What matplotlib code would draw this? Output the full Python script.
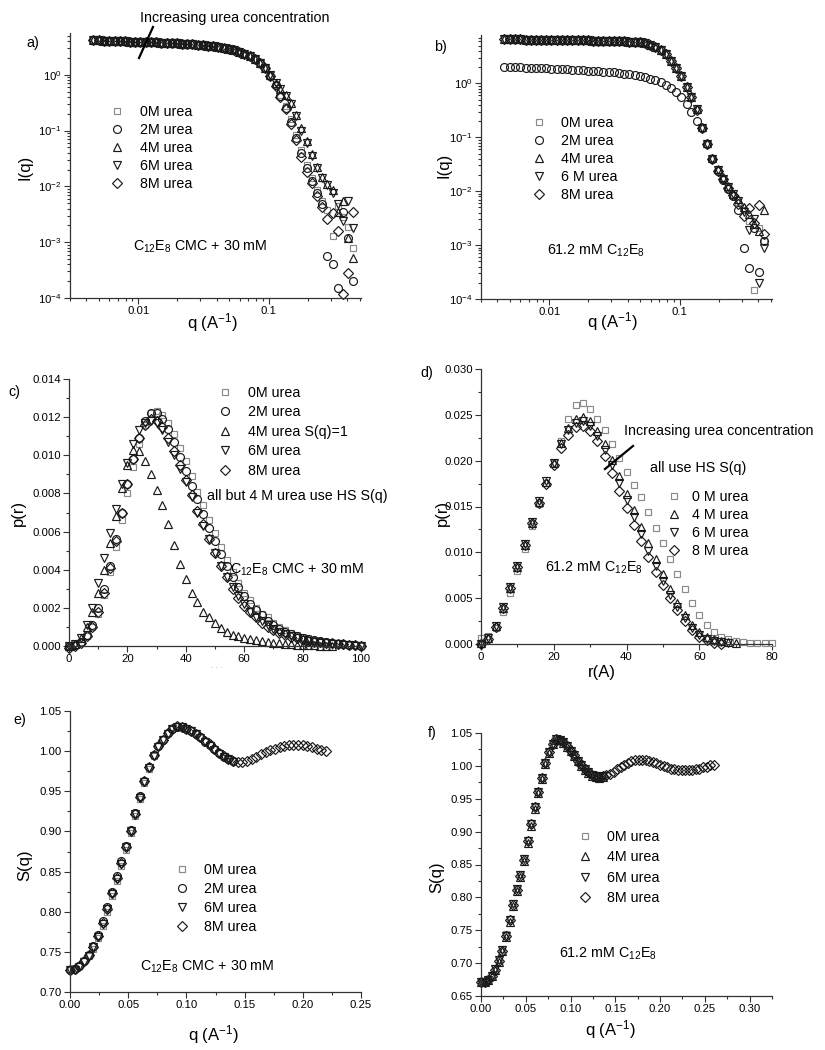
import matplotlib
matplotlib.use('Agg')
import matplotlib.pyplot as plt
from matplotlib.lines import Line2D
from matplotlib.ticker import (MultipleLocator, FixedLocator, LogLocator,
                               NullFormatter, FormatStrFormatter, FuncFormatter,
                               LogFormatterMathtext)

plt.rcParams['font.family'] = ['Liberation Sans', 'DejaVu Sans']
plt.rcParams['mathtext.fontset'] = 'custom'
plt.rcParams['mathtext.rm'] = 'Liberation Sans'
plt.rcParams['mathtext.it'] = 'Liberation Sans:italic'
plt.rcParams['mathtext.bf'] = 'Liberation Sans:bold'

# ---------------- panel a : I(q), C12E8 CMC + 30 mM ----------------
q_a = [0.0045, 0.005, 0.0055, 0.006, 0.0066, 0.0072, 0.0079, 0.0087, 0.0095, 0.0104,
       0.0114, 0.0125, 0.0137, 0.015, 0.0165, 0.018, 0.0198, 0.0217, 0.0238, 0.026,
       0.0285, 0.0313, 0.0343, 0.0376, 0.0412, 0.0451, 0.0495, 0.0542, 0.0594, 0.0651,
       0.0713, 0.0782, 0.0857, 0.0939,
       0.103, 0.113, 0.123, 0.135, 0.148, 0.163, 0.178, 0.195, 0.214, 0.235,
       0.257, 0.282, 0.309, 0.339, 0.371, 0.407, 0.446]
I_a_low = [4.2, 4.15, 4.1, 4.07, 4.03, 4.0, 3.97, 3.94, 3.91, 3.88,
           3.85, 3.82, 3.79, 3.76, 3.72, 3.69, 3.65, 3.61, 3.57, 3.52,
           3.46, 3.40, 3.33, 3.25, 3.15, 3.04, 2.91, 2.76, 2.58, 2.37,
           2.13, 1.90, 1.62, 1.32]
I_a_0M = I_a_low + [0.97, 0.66, 0.44, 0.27, 0.16, 0.085, 0.045, 0.024, 0.014, 0.0085,
                    0.0055, 0.0038, 0.0013, 0.0045, 0.0028, 0.0019, 0.0008]
I_a_2M = I_a_low + [0.96, 0.65, 0.42, 0.25, 0.145, 0.075, 0.039, 0.021, 0.0125, 0.0075,
                    0.0048, 0.00057, 0.0004, 0.00015, 0.0035, 0.0012, 0.0002]
I_a_4M = I_a_low + [1.0, 0.72, 0.56, 0.43, 0.31, 0.19, 0.11, 0.065, 0.038, 0.022,
                    0.015, 0.011, 0.0085, 0.0035, 0.0055, 0.0012, 0.00052]
I_a_6M = I_a_low + [0.99, 0.71, 0.55, 0.42, 0.30, 0.18, 0.10, 0.06, 0.035, 0.021,
                    0.014, 0.0105, 0.0075, 0.0048, 0.0024, 0.0055, 0.0018]
I_a_8M = I_a_low + [0.95, 0.63, 0.40, 0.24, 0.13, 0.068, 0.033, 0.018, 0.0115, 0.0068,
                    0.0042, 0.0026, 0.0034, 0.0016, 0.00012, 0.00028, 0.0035]

# ---------------- panel b : I(q), 61.2 mM C12E8 ----------------
q_b = q_a
I_b_high = [6.6, 6.58, 6.55, 6.53, 6.5, 6.48, 6.46, 6.44, 6.42, 6.4,
            6.38, 6.36, 6.34, 6.32, 6.3, 6.28, 6.26, 6.24, 6.22, 6.2,
            6.17, 6.14, 6.1, 6.05, 5.98, 5.88, 5.74, 5.55, 5.25, 4.8,
            4.2, 3.45, 2.65, 1.95]
I_b_0M = I_b_high + [1.38, 0.86, 0.56, 0.33, 0.15, 0.075, 0.041, 0.025, 0.017, 0.012,
                     0.0085, 0.0062, 0.0045, 0.0028, 0.00015, 0.0021, 0.0012]
I_b_2M = [2.05, 2.03, 2.01, 1.99, 1.97, 1.95, 1.93, 1.91, 1.89, 1.87,
          1.85, 1.83, 1.81, 1.79, 1.77, 1.75, 1.73, 1.71, 1.68, 1.66,
          1.63, 1.6, 1.56, 1.52, 1.48, 1.43, 1.38, 1.31, 1.23, 1.14,
          1.04, 0.93, 0.81, 0.69,
          0.57, 0.42, 0.29, 0.2, 0.15, 0.074, 0.04, 0.024, 0.016, 0.011,
          0.008, 0.0045, 0.0009, 0.00037, 0.0021, 0.00032, 0.0012]
I_b_4M = I_b_high + [1.4, 0.87, 0.57, 0.34, 0.155, 0.078, 0.042, 0.026, 0.018, 0.0125,
                     0.009, 0.0072, 0.0052, 0.0038, 0.0025, 0.0018, 0.0045]
I_b_6M = I_b_high + [1.37, 0.85, 0.55, 0.33, 0.15, 0.074, 0.04, 0.025, 0.017, 0.012,
                     0.0088, 0.0065, 0.0042, 0.0019, 0.0031, 0.0002, 0.0009]
I_b_8M = I_b_high + [1.36, 0.84, 0.55, 0.32, 0.15, 0.074, 0.04, 0.024, 0.0165, 0.0115,
                     0.0085, 0.0058, 0.0035, 0.0048, 0.0026, 0.0055, 0.0016]

# ---------------- panel c : p(r), C12E8 CMC + 30 mM ----------------
r_c = [0, 2, 4, 6, 8, 10, 12, 14, 16, 18, 20, 22, 24, 26, 28, 30, 32, 34, 36, 38,
       40, 42, 44, 46, 48, 50, 52, 54, 56, 58, 60, 62, 64, 66, 68, 70, 72, 74, 76, 78,
       80, 82, 84, 86, 88, 90, 92, 94, 96, 98, 100]
p_c_0M = [0.0, 0.00003, 0.0002, 0.0005, 0.001, 0.0017, 0.0027, 0.0039, 0.0052, 0.0066,
          0.008, 0.0094, 0.0106, 0.0116, 0.0122,
          0.0123, 0.0121, 0.0117, 0.0111, 0.0104, 0.0097, 0.0089, 0.0081, 0.0074, 0.0066,
          0.0059, 0.0052, 0.0045, 0.0039, 0.0033, 0.0028, 0.0024, 0.002, 0.0017, 0.0015,
          0.0012, 0.001, 0.00085, 0.0007, 0.00058, 0.00048, 0.0004, 0.00033, 0.00027, 0.00022,
          0.00018, 0.00014, 0.0001, 0.00007, 0.00004, 0.00002]
p_c_2M = [0.0, 0.00004, 0.0002, 0.0006, 0.0011, 0.002, 0.003, 0.0042, 0.0056, 0.007,
          0.0085, 0.0098, 0.0109, 0.0118, 0.0122,
          0.0122, 0.0119, 0.0114, 0.0107, 0.0099, 0.0092, 0.0084, 0.0077, 0.0069, 0.0062,
          0.0055, 0.0048, 0.0042, 0.0036, 0.0031, 0.0026, 0.0022, 0.0019, 0.0016, 0.0013,
          0.0011, 0.0009, 0.00076, 0.00063, 0.00052, 0.00043, 0.00036, 0.0003, 0.00025, 0.0002,
          0.00016, 0.00013, 0.0001, 0.00007, 0.00004, 0.00002]
r_c_4M = r_c[:46]
p_c_4M = [0.0, 0.0001, 0.0004, 0.001, 0.0018, 0.0028, 0.004, 0.0054, 0.0068, 0.0083,
          0.0095, 0.0103, 0.0102, 0.0097, 0.009, 0.0082, 0.0074, 0.0064, 0.0053, 0.0043,
          0.0035, 0.0028, 0.0023, 0.0018, 0.0015, 0.0012, 0.00095, 0.00075, 0.0006, 0.0005,
          0.00042, 0.00035, 0.0003, 0.00025, 0.0002, 0.00017, 0.00014, 0.00011, 0.00009, 0.00007,
          0.00005, 0.00004, 0.00003, 0.00002, 0.00001, 0.0]
p_c_6M = [0.0, 0.0001, 0.0004, 0.0011, 0.002, 0.0033, 0.0046, 0.0059, 0.0072, 0.0085,
          0.0096, 0.0106, 0.0113, 0.0117, 0.0118,
          0.0117, 0.0113, 0.0107, 0.01, 0.0093, 0.0086, 0.0078, 0.007, 0.0063, 0.0056,
          0.0049, 0.0042, 0.0036, 0.0031, 0.0026, 0.0022, 0.0018, 0.0015, 0.0013, 0.0011,
          0.0009, 0.00075, 0.00062, 0.0005, 0.0004, 0.00033, 0.00027, 0.00022, 0.00018, 0.00014,
          0.0001, 0.00008, 0.00006, 0.00004, 0.00002, 0.00001]
p_c_8M = [-0.0001, 0.00002, 0.00018, 0.0005, 0.001, 0.0018, 0.0028, 0.0041, 0.0055, 0.007,
          0.0085, 0.0098, 0.0109, 0.0116, 0.0119,
          0.0118, 0.0115, 0.0109, 0.0102, 0.0095, 0.0087, 0.0079, 0.0071, 0.0064, 0.0056,
          0.0049, 0.0042, 0.0036, 0.003, 0.0025, 0.0021, 0.0018, 0.0015, 0.0012, 0.001,
          0.00085, 0.0007, 0.00058, 0.00048, 0.0004, 0.00032, 0.00027, 0.00023, 0.0002, 0.00017,
          0.00015, 0.00012, 0.0001, 0.00007, 0.00004, 0.00001]

# ---------------- panel d : p(r), 61.2 mM C12E8 ----------------
r_d = [0, 2, 4, 6, 8, 10, 12, 14, 16, 18, 20, 22, 24, 26, 28, 30, 32, 34, 36, 38,
       40, 42, 44, 46, 48, 50, 52, 54, 56, 58, 60, 62, 64, 66, 68, 70, 72, 74, 76, 78, 80]
p_d_0M = [0.0007, 0.0009, 0.0018, 0.0035, 0.0056, 0.008, 0.0104, 0.0129, 0.0153, 0.0176,
          0.0198, 0.0222, 0.0245, 0.0261, 0.0263, 0.0256, 0.0246, 0.0233, 0.0218, 0.0203,
          0.0188, 0.0174, 0.016, 0.0144, 0.0127, 0.011, 0.0093, 0.0076, 0.006, 0.0045,
          0.0032, 0.0021, 0.0013, 0.0008, 0.0005, 0.0003, 0.0002, 0.00015, 0.0001, 0.0001,
          0.0001]
p_d_4M = [0.0001, 0.0007, 0.002, 0.0039, 0.0061, 0.0084, 0.0108, 0.0132, 0.0155, 0.0177,
          0.0198, 0.0219, 0.0236, 0.0246, 0.0248, 0.0243, 0.0232, 0.0218, 0.0201, 0.0183,
          0.0164, 0.0146, 0.0128, 0.011, 0.0093, 0.0076, 0.006, 0.0045, 0.0032, 0.0021,
          0.0013, 0.0008, 0.0005, 0.0003, 0.0002, 0.0001]
p_d_6M = [0.0, 0.0007, 0.002, 0.004, 0.0062, 0.0085, 0.0109, 0.0133, 0.0156, 0.0178,
          0.0198, 0.0218, 0.0233, 0.0241, 0.0243, 0.0238, 0.0227, 0.0212, 0.0195, 0.0176,
          0.0157, 0.0139, 0.012, 0.0102, 0.0085, 0.0069, 0.0054, 0.004, 0.0028, 0.0018,
          0.001, 0.0005, 0.0003, 0.0002, 0.0001]
p_d_8M = [0.0, 0.0006, 0.0019, 0.0039, 0.0061, 0.0084, 0.0108, 0.0132, 0.0154, 0.0175,
          0.0195, 0.0214, 0.0228, 0.0237, 0.0238, 0.0232, 0.0221, 0.0205, 0.0187, 0.0167,
          0.0148, 0.013, 0.0112, 0.0095, 0.0079, 0.0064, 0.005, 0.0037, 0.0025, 0.0015,
          0.0008, 0.0004, 0.0001, 0.0]

# ---------------- panel e : S(q), C12E8 CMC + 30 mM ----------------
q_e = [0.000, 0.004, 0.008, 0.012, 0.016, 0.020, 0.024, 0.028, 0.032, 0.036,
       0.040, 0.044, 0.048, 0.052, 0.056, 0.060, 0.064, 0.068, 0.072, 0.076,
       0.080, 0.084, 0.088, 0.092, 0.096, 0.100, 0.104, 0.108, 0.112, 0.116,
       0.120, 0.124, 0.128, 0.132, 0.136, 0.140, 0.144, 0.148, 0.152, 0.156,
       0.160, 0.164, 0.168, 0.172, 0.176, 0.180, 0.184, 0.188, 0.192, 0.196,
       0.200, 0.204, 0.208, 0.212, 0.216, 0.220]
S_e_0M = [0.729, 0.730, 0.733, 0.738, 0.745, 0.754, 0.767, 0.782, 0.800, 0.819,
          0.838, 0.857, 0.877, 0.898, 0.919, 0.940, 0.960, 0.978, 0.994, 1.006,
          1.015, 1.023, 1.028, 1.031, 1.031, 1.029, 1.026, 1.022, 1.018, 1.013,
          1.008, 1.003, 0.998, 0.994, 0.990, 0.988]
S_e_2M = [0.728, 0.729, 0.732, 0.738, 0.746, 0.757, 0.771, 0.788, 0.806, 0.825,
          0.844, 0.863, 0.882, 0.902, 0.923, 0.944, 0.963, 0.980, 0.995, 1.006,
          1.014, 1.022, 1.027, 1.030, 1.030, 1.028, 1.025, 1.021, 1.017, 1.012,
          1.008, 1.003, 0.998, 0.993, 0.990, 0.988]
S_e_6M = [0.727, 0.728, 0.731, 0.737, 0.745, 0.756, 0.769, 0.785, 0.803, 0.822,
          0.841, 0.860, 0.880, 0.901, 0.922, 0.942, 0.962, 0.979, 0.994, 1.005,
          1.014, 1.021, 1.027, 1.030, 1.030, 1.028, 1.025, 1.021, 1.016, 1.012,
          1.007, 1.002, 0.997, 0.993, 0.990, 0.987]
S_e_8M = [0.728, 0.729, 0.733, 0.739, 0.746, 0.756, 0.770, 0.786, 0.804, 0.823,
          0.842, 0.861, 0.880, 0.901, 0.922, 0.943, 0.963, 0.980, 0.995, 1.006,
          1.014, 1.022, 1.028, 1.031, 1.030, 1.028, 1.025, 1.021, 1.017, 1.013,
          1.009, 1.003, 0.998, 0.994, 0.990, 0.988, 0.987, 0.987, 0.988, 0.990,
          0.993, 0.996, 0.999, 1.001, 1.003, 1.005, 1.007, 1.008, 1.008, 1.008,
          1.008, 1.006, 1.005, 1.003, 1.001, 1.000]

# ---------------- panel f : S(q), 61.2 mM C12E8 ----------------
q_f = [0.000, 0.004, 0.008, 0.012, 0.016, 0.020, 0.024, 0.028, 0.032, 0.036,
       0.040, 0.044, 0.048, 0.052, 0.056, 0.060, 0.064, 0.068, 0.072, 0.076,
       0.080, 0.084, 0.088, 0.092, 0.096, 0.100, 0.104, 0.108, 0.112, 0.116,
       0.120, 0.124, 0.128, 0.132, 0.136, 0.140, 0.144, 0.148, 0.152, 0.156,
       0.160, 0.164, 0.168, 0.172, 0.176, 0.180, 0.184, 0.188, 0.192, 0.196,
       0.200, 0.204, 0.208, 0.212, 0.216, 0.220, 0.224, 0.228, 0.232, 0.236,
       0.240, 0.244, 0.248, 0.252, 0.256, 0.260]
S_f_0M = [0.673, 0.673, 0.676, 0.682, 0.692, 0.705, 0.722, 0.744, 0.767, 0.791,
          0.813, 0.836, 0.860, 0.887, 0.913, 0.938, 0.961, 0.982, 1.004, 1.021,
          1.034, 1.040, 1.040, 1.036, 1.030, 1.023, 1.015, 1.008, 1.001, 0.995,
          0.990, 0.986, 0.984, 0.983, 0.984]
S_f_4M = [0.671, 0.672, 0.674, 0.680, 0.689, 0.702, 0.718, 0.740, 0.763, 0.787,
          0.809, 0.831, 0.855, 0.883, 0.909, 0.935, 0.959, 0.980, 1.003, 1.020,
          1.033, 1.040, 1.040, 1.035, 1.029, 1.022, 1.015, 1.007, 1.000, 0.994,
          0.989, 0.985, 0.983, 0.982, 0.983]
S_f_6M = [0.672, 0.672, 0.675, 0.681, 0.691, 0.704, 0.720, 0.742, 0.766, 0.790,
          0.812, 0.834, 0.858, 0.886, 0.912, 0.937, 0.960, 0.981, 1.004, 1.021,
          1.034, 1.041, 1.040, 1.036, 1.030, 1.023, 1.016, 1.008, 1.001, 0.995,
          0.990, 0.986, 0.984, 0.983, 0.984]
S_f_8M = [0.672, 0.672, 0.675, 0.681, 0.690, 0.703, 0.719, 0.742, 0.765, 0.789,
          0.811, 0.833, 0.857, 0.885, 0.911, 0.937, 0.960, 0.981, 1.004, 1.021,
          1.034, 1.041, 1.040, 1.036, 1.030, 1.023, 1.016, 1.008, 1.001, 0.995,
          0.990, 0.986, 0.984, 0.983, 0.984, 0.986, 0.988, 0.991, 0.995, 0.998,
          1.002, 1.005, 1.007, 1.009, 1.0095, 1.0095, 1.009, 1.008, 1.006, 1.004,
          1.002, 1.000, 0.998, 0.996, 0.995, 0.994, 0.994, 0.994, 0.994, 0.994,
          0.995, 0.996, 0.998, 0.999, 1.001, 1.002]

# marker look per urea concentration
MK = {'0M': ('s', 3.9, '#8a8a8a'),
      '2M': ('o', 5.7, '#1a1a1a'),
      '4M': ('^', 6.0, '#1a1a1a'),
      '6M': ('v', 6.0, '#1a1a1a'),
      '8M': ('D', 4.8, '#1a1a1a')}

W, H = 825, 1050
fig = plt.figure(figsize=(W / 100, H / 100), dpi=100)
FS = 10.3
LFS = 12


def add_ax(x0, top, x1, bottom):
    return fig.add_axes([x0 / W, 1 - bottom / H, (x1 - x0) / W, (bottom - top) / H])


def ftext(x, y, s, **kw):
    kw.setdefault('fontsize', FS)
    kw.setdefault('va', 'center')
    kw.setdefault('ha', 'left')
    fig.text(x / W, 1 - y / H, s, **kw)


def fline(x0, y0, x1, y1):
    fig.add_artist(Line2D([x0 / W, x1 / W], [1 - y0 / H, 1 - y1 / H],
                          transform=fig.transFigure, color='k', lw=1.6))


def draw(ax, x, y, key, label):
    m, ms, c = MK[key]
    ax.plot(x, y, ls='none', marker=m, ms=ms, mfc='none', mec=c, mew=0.85,
            clip_on=False, label=label)


def style(ax):
    for s in ('top', 'right'):
        ax.spines[s].set_visible(False)
    for s in ('left', 'bottom'):
        ax.spines[s].set_linewidth(0.9)
        ax.spines[s].set_color('#333333')
    ax.tick_params(which='both', direction='out', width=0.8, color='#333333',
                   labelsize=8.2, pad=2)
    ax.tick_params(which='major', length=4)
    ax.tick_params(which='minor', length=2.2)


def legend(ax, left, top, pad, spacing):
    ax.legend(loc='upper left', bbox_to_anchor=(left / W, 1 - top / H),
              bbox_transform=fig.transFigure, frameon=False, fontsize=FS,
              handlelength=1.0, handletextpad=pad, labelspacing=spacing,
              borderpad=0, borderaxespad=0, numpoints=1)


def log_axes(ax, ytop):
    ax.set_xscale('log')
    ax.set_yscale('log')
    ax.set_xlim(0.003, 0.51)
    ax.set_ylim(1e-4, ytop)
    ax.xaxis.set_major_locator(FixedLocator([0.01, 0.1]))
    ax.xaxis.set_major_formatter(FuncFormatter(lambda v, p: '%g' % v))
    ax.xaxis.set_minor_locator(LogLocator(base=10, subs=range(2, 10), numticks=20))
    ax.xaxis.set_minor_formatter(NullFormatter())
    ax.yaxis.set_major_locator(FixedLocator([1e-4, 1e-3, 1e-2, 1e-1, 1]))
    ax.yaxis.set_major_formatter(LogFormatterMathtext())
    ax.yaxis.set_minor_locator(LogLocator(base=10, subs=range(2, 10), numticks=20))
    ax.yaxis.set_minor_formatter(NullFormatter())


C12E8 = r'C$_{12}$E$_8$'
QLAB = r'q (A$^{-1}$)'

# ---- a ----
ax = add_ax(70, 33, 361, 298)
draw(ax, q_a, I_a_0M, '0M', '0M urea')
draw(ax, q_a, I_a_2M, '2M', '2M urea')
draw(ax, q_a, I_a_4M, '4M', '4M urea')
draw(ax, q_a, I_a_6M, '6M', '6M urea')
draw(ax, q_a, I_a_8M, '8M', '8M urea')
log_axes(ax, 5.6)
style(ax)
legend(ax, 110, 105, 1.1, 0.28)
ftext(140, 18, 'Increasing urea concentration')
fline(153, 27, 139, 58)
ftext(133, 247, C12E8 + ' CMC + 30 mM')
ftext(33, 43, 'a)', ha='center')
ftext(25, 167, 'I(q)', rotation=90, ha='center', fontsize=LFS)
ftext(212, 323, QLAB, ha='center', fontsize=LFS)

# ---- b ----
ax = add_ax(481, 35, 772, 299)
draw(ax, q_b, I_b_0M, '0M', '0M urea')
draw(ax, q_b, I_b_2M, '2M', '2M urea')
draw(ax, q_b, I_b_4M, '4M', '4M urea')
draw(ax, q_b, I_b_6M, '6M', '6 M urea')
draw(ax, q_b, I_b_8M, '8M', '8M urea')
log_axes(ax, 7.9)
style(ax)
legend(ax, 532, 116, 1.0, 0.28)
ftext(547, 251, '61.2 mM ' + C12E8)
ftext(440, 47, 'b)', ha='center')
ftext(444, 165, 'I(q)', rotation=90, ha='center', fontsize=LFS)
ftext(612, 322, QLAB, ha='center', fontsize=LFS)

# ---- c ----
ax = add_ax(69, 379, 361, 646)
draw(ax, r_c, p_c_0M, '0M', '0M urea')
draw(ax, r_c, p_c_2M, '2M', '2M urea')
draw(ax, r_c_4M, p_c_4M, '4M', '4M urea S(q)=1')
draw(ax, r_c, p_c_6M, '6M', '6M urea')
draw(ax, r_c, p_c_8M, '8M', '8M urea')
ax.set_xlim(0, 100)
ax.set_ylim(0, 0.014)
ax.xaxis.set_major_locator(MultipleLocator(20))
ax.xaxis.set_minor_locator(MultipleLocator(10))
ax.yaxis.set_major_locator(MultipleLocator(0.002))
ax.yaxis.set_minor_locator(MultipleLocator(0.001))
ax.yaxis.set_major_formatter(FormatStrFormatter('%.3f'))
style(ax)
legend(ax, 218, 386, 1.1, 0.38)
ftext(207, 496, 'all but 4 M urea use HS S(q)')
ftext(230, 570, C12E8 + ' CMC + 30 mM')
ftext(14, 392, 'c)', ha='center')
ftext(18, 513, 'p(r)', rotation=90, ha='center', fontsize=LFS)
ftext(217, 666, '. . .', ha='center', fontsize=6, color='#999999')

# ---- d ----
ax = add_ax(481, 369, 772, 644)
draw(ax, r_d, p_d_0M, '0M', '0 M urea')
draw(ax, r_d[:36], p_d_4M, '4M', '4 M urea')
draw(ax, r_d[:35], p_d_6M, '6M', '6 M urea')
draw(ax, r_d[:34], p_d_8M, '8M', '8 M urea')
ax.set_xlim(0, 80)
ax.set_ylim(0, 0.030)
ax.xaxis.set_major_locator(MultipleLocator(20))
ax.xaxis.set_minor_locator(MultipleLocator(10))
ax.yaxis.set_major_locator(MultipleLocator(0.005))
ax.yaxis.set_minor_locator(MultipleLocator(0.0025))
ax.yaxis.set_major_formatter(FormatStrFormatter('%.3f'))
style(ax)
legend(ax, 667, 490, 0.75, 0.27)
ftext(624, 431, 'Increasing urea concentration')
fline(633, 446, 605, 469)
ftext(650, 468, 'all use HS S(q)')
ftext(545, 568, '61.2 mM ' + C12E8)
ftext(427, 373, 'd)', ha='center')
ftext(442, 513, 'p(r)', rotation=90, ha='center', fontsize=LFS)
ftext(602, 672, 'r(A)', ha='center', fontsize=LFS)

# ---- e ----
ax = add_ax(70, 711, 361, 992)
draw(ax, q_e[:36], S_e_0M, '0M', '0M urea')
draw(ax, q_e[:36], S_e_2M, '2M', '2M urea')
draw(ax, q_e[:36], S_e_6M, '6M', '6M urea')
draw(ax, q_e, S_e_8M, '8M', '8M urea')
ax.set_xlim(0, 0.25)
ax.set_ylim(0.70, 1.05)
ax.xaxis.set_major_locator(MultipleLocator(0.05))
ax.xaxis.set_minor_locator(MultipleLocator(0.025))
ax.xaxis.set_major_formatter(FormatStrFormatter('%.2f'))
ax.yaxis.set_major_locator(MultipleLocator(0.05))
ax.yaxis.set_minor_locator(MultipleLocator(0.025))
ax.yaxis.set_major_formatter(FormatStrFormatter('%.2f'))
style(ax)
legend(ax, 175, 863, 1.0, 0.36)
ftext(140, 967, C12E8 + ' CMC + 30 mM')
ftext(20, 720, 'e)', ha='center')
ftext(25, 865, 'S(q)', rotation=90, ha='center', fontsize=LFS)
ftext(213, 1035, QLAB, ha='center', fontsize=LFS)

# ---- f ----
ax = add_ax(481, 733, 772, 996)
draw(ax, q_f[:35], S_f_0M, '0M', '0M urea')
draw(ax, q_f[:35], S_f_4M, '4M', '4M urea')
draw(ax, q_f[:35], S_f_6M, '6M', '6M urea')
draw(ax, q_f, S_f_8M, '8M', '8M urea')
ax.set_xlim(0, 0.325)
ax.set_ylim(0.65, 1.05)
ax.xaxis.set_major_locator(MultipleLocator(0.05))
ax.xaxis.set_minor_locator(MultipleLocator(0.025))
ax.xaxis.set_major_formatter(FormatStrFormatter('%.2f'))
ax.yaxis.set_major_locator(MultipleLocator(0.05))
ax.yaxis.set_minor_locator(MultipleLocator(0.025))
ax.yaxis.set_major_formatter(FormatStrFormatter('%.2f'))
style(ax)
legend(ax, 578, 830, 1.0, 0.44)
ftext(559, 954, '61.2 mM ' + C12E8)
ftext(432, 733, 'f)', ha='center')
ftext(437, 877, 'S(q)', rotation=90, ha='center', fontsize=LFS)
ftext(610, 1030, QLAB, ha='center', fontsize=LFS)

fig.savefig('out.png', dpi=100)
